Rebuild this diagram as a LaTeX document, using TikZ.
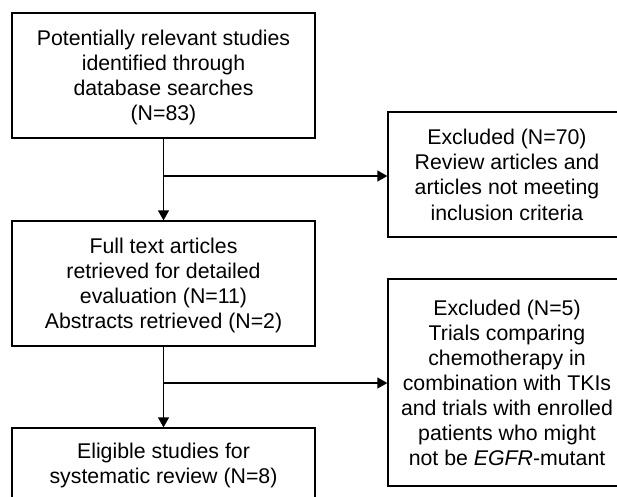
\documentclass[tikz,border=0pt]{standalone}
\usepackage{fontspec}
\setmainfont{Liberation Sans}
\usetikzlibrary{arrows.meta}
\newcommand\mystrut{\rule[-4.3pt]{0pt}{24.3pt}}
\begin{document}
\begin{tikzpicture}[x=1pt,y=-1pt,
  box/.style={draw=black, line width=1.3pt, inner sep=0pt, align=center,
    font=\fontsize{21.3}{25.1}\selectfont},
  arr/.style={draw=black, line width=1.3pt, -{Triangle[length=10pt,width=11pt]}}]
\useasboundingbox (0,0) rectangle (617,496);
\begin{scope}
\clip (0,0) rectangle (617,496);
\node[box, minimum width=303pt, minimum height=125pt] (b1) at (163.5,75.5)
  {\mystrut Potentially relevant studies\\identified through\\database searches\\\mystrut(N=83)};
\node[box, minimum width=238pt, minimum height=125pt] (r1) at (507,174.5)
  {\mystrut Excluded (N=70)\\Review articles and\\articles not meeting\\\mystrut inclusion criteria};
\node[box, minimum width=303pt, minimum height=125pt] (b2) at (163.5,283.5)
  {\mystrut Full text articles\\retrieved for detailed\\evaluation (N=11)\\\mystrut Abstracts retrieved (N=2)};
\node[box, minimum width=238pt, minimum height=207pt] (r2) at (507,382.5)
  {\mystrut Excluded (N=5)\\Trials comparing\\chemotherapy in\\combination with TKIs\\and trials with enrolled\\patients who might\\\mystrut not be \textit{EGFR}-mutant};
\node[box, minimum width=303pt, minimum height=71pt] (b3) at (163.5,463.5)
  {\mystrut Eligible studies for\\\mystrut systematic review (N=8)};
\draw[arr] (b1.south) -- (b2.north);
\draw[arr] (b2.south) -- (b3.north);
\coordinate (j1) at (163.5,176);
\coordinate (j2) at (163.5,383);
\draw[arr] (j1) -- (j1 -| r1.west);
\draw[arr] (j2) -- (j2 -| r2.west);
\end{scope}
\end{tikzpicture}
\end{document}
